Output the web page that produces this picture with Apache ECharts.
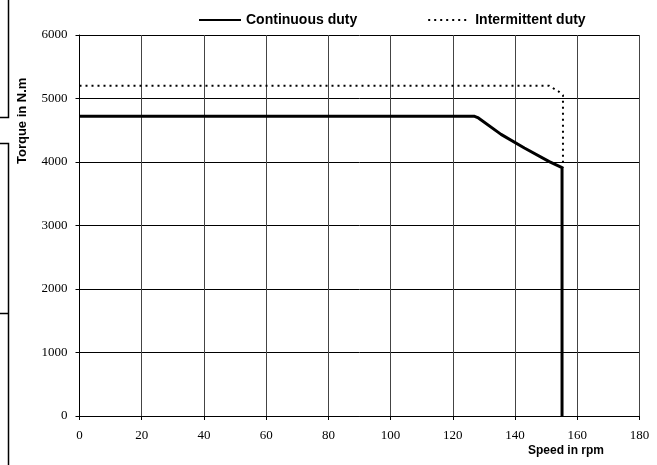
<!DOCTYPE html>
<html>
<head>
<meta charset="utf-8">
<script src="https://cdn.jsdelivr.net/npm/echarts@6/dist/echarts.min.js"></script>
<style>
  html, body { margin: 0; padding: 0; background: #fff; }
  #chart { width: 657px; height: 465px; }
</style>
</head>
<body>
<div id="chart"></div>
<script>
// speed (rpm) / torque (N.m)
var contSpeed  = [0, 127, 128, 135.5, 143, 151, 155.1, 155.1];
var contTorque = [4720, 4720, 4700, 4435, 4220, 4005, 3910, 0];
var intSpeed   = [0, 151, 154, 155.4, 155.4];
var intTorque  = [5200, 5200, 5110, 5050, 3910];

var xTicks = [0, 180, 20];      // min, max, step
var yTicks = [0, 6000, 1000];

function pairs(xs, ys) {
  var out = [];
  for (var i = 0; i < xs.length; i++) out.push([xs[i], ys[i]]);
  return out;
}

var chart = echarts.init(document.getElementById('chart'));

var option = {
  backgroundColor: '#fff',
  animation: false,
  grid: { left: 79.5, right: 17.5, top: 35, bottom: 49 },
  legend: {
    left: 193,
    top: 8,
    itemWidth: 42,
    itemHeight: 14,
    itemGap: 70,
    itemStyle: { opacity: 0 },
    textStyle: { fontFamily: 'Liberation Sans', fontWeight: 'bold', fontSize: 14, color: '#000' },
    data: ['Continuous duty', 'Intermittent duty']
  },
  xAxis: {
    type: 'value',
    min: xTicks[0], max: xTicks[1], interval: xTicks[2],
    axisLine: { lineStyle: { color: '#000', width: 1 } },
    axisTick: { show: true, length: 4, lineStyle: { color: '#000' } },
    axisLabel: { fontFamily: 'Liberation Serif', fontSize: 13, color: '#000', margin: 13 },
    splitLine: { show: true, lineStyle: { color: '#444', width: 1 } }
  },
  yAxis: {
    type: 'value',
    min: yTicks[0], max: yTicks[1], interval: yTicks[2],
    axisLine: { show: true, lineStyle: { color: '#000', width: 1 } },
    axisTick: { show: true, length: 4, lineStyle: { color: '#000' } },
    axisLabel: {
      fontFamily: 'Liberation Serif', fontSize: 13, color: '#000', margin: 12,
      formatter: function (v) { return String(v); }
    },
    splitLine: { show: true, lineStyle: { color: '#000', width: 1 } }
  },
  graphic: [
    { type: 'text', left: 528, top: 445,
      style: { text: 'Speed in rpm', font: 'bold 12px "Liberation Sans"', fill: '#000' } },
    { type: 'text', x: 16, y: 164, rotation: Math.PI / 2,
      style: { text: 'Torque in N.m', font: 'bold 13px "Liberation Sans"', fill: '#000' } },
    // edge marks from the original scan
    { type: 'polyline', shape: { points: [[8.5, 0], [8.5, 117.5], [0, 117.5]] },
      style: { stroke: '#000', lineWidth: 1.5, fill: null } },
    { type: 'polyline', shape: { points: [[0, 143.5], [8.5, 143.5], [8.5, 465]] },
      style: { stroke: '#000', lineWidth: 1.5, fill: null } },
    { type: 'line', shape: { x1: 0, y1: 313.5, x2: 8.5, y2: 313.5 },
      style: { stroke: '#000', lineWidth: 1.5 } }
  ],
  series: [
    {
      name: 'Continuous duty',
      type: 'line',
      data: pairs(contSpeed, contTorque),
      showSymbol: false,
      symbol: 'none',
      lineStyle: { color: '#000', width: 3 },
      itemStyle: { color: '#000' },
      z: 3
    },
    {
      name: 'Intermittent duty',
      type: 'line',
      data: pairs(intSpeed, intTorque),
      showSymbol: false,
      symbol: 'none',
      lineStyle: { color: '#000', width: 2, type: [2, 4] },
      itemStyle: { color: '#000' },
      z: 2
    }
  ]
};

chart.setOption(option);
</script>
</body>
</html>
